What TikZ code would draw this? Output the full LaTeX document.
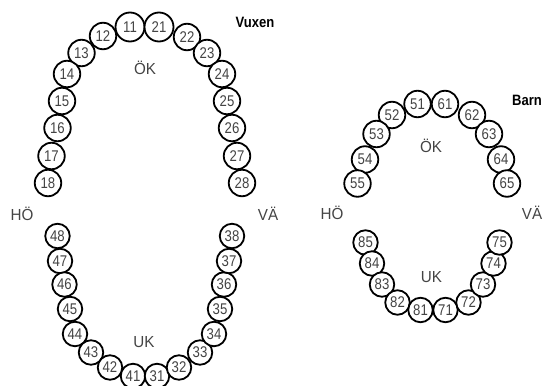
\documentclass[tikz,border=0pt]{standalone}
\usepackage{fontspec}
\setmainfont{Liberation Sans}
\newfontfamily\numfont[FakeStretch=0.85]{Liberation Sans}
\newfontfamily\lblfont[FakeStretch=0.95]{Liberation Sans}
\newfontfamily\ttlfont[FakeStretch=0.87]{Liberation Sans}
\definecolor{txt}{HTML}{444444}
\tikzset{
  tooth/.style={circle, draw=black, line width=1.8pt, fill=white, inner sep=0pt,
    text=txt, font=\numfont\fontsize{15.5}{17}\selectfont},
  big/.style={tooth, minimum size=29pt},
  up/.style={tooth, minimum size=26.5pt},
  low/.style={tooth, minimum size=24.5pt},
  lbl/.style={text=txt, font=\lblfont\fontsize{16}{18}\selectfont, inner sep=0pt},
  ttl/.style={text=black, font=\ttlfont\bfseries\fontsize{15}{17}\selectfont, inner sep=0pt}
}
\begin{document}
\begin{tikzpicture}[x=1pt,y=-1pt]
\useasboundingbox (0,0) rectangle (548,385);
% adult upper
\node[big] (t11) at (130,27) {11};
\node[big] (t21) at (159,27) {21};
\node[up] (t12) at (103,36) {12};
\node[up] (t22) at (187,37) {22};
\node[up] (t13) at (81.5,53) {13};
\node[up] (t23) at (207,53) {23};
\node[up] (t14) at (67,74) {14};
\node[up] (t24) at (222,74) {24};
\node[up] (t15) at (62,101) {15};
\node[up] (t25) at (227,101) {25};
\node[up] (t16) at (57.5,128) {16};
\node[up] (t26) at (232,128) {26};
\node[up] (t17) at (51.5,156) {17};
\node[up] (t27) at (237,156) {27};
\node[up] (t18) at (48,183) {18};
\node[up] (t28) at (242,183) {28};
\node[ttl] (vuxen) at (255,22) {Vuxen};
\node[lbl] (okA) at (145,68) {ÖK};
\node[lbl] (hoA) at (22,214) {HÖ};
\node[lbl] (vaA) at (268,214) {VÄ};
% adult lower
\node[low] (t48) at (57.5,236) {48};
\node[low] (t47) at (60,261) {47};
\node[low] (t46) at (64.5,284.5) {46};
\node[low] (t45) at (70,309) {45};
\node[low] (t44) at (75,334) {44};
\node[low] (t43) at (91,352.5) {43};
\node[low] (t42) at (110,367.5) {42};
\node[low] (t41) at (133,376) {41};
\node[low] (t31) at (157,376) {31};
\node[low] (t32) at (179,367.5) {32};
\node[low] (t33) at (200,352.5) {33};
\node[low] (t34) at (214,334) {34};
\node[low] (t35) at (220,309) {35};
\node[low] (t36) at (224,284.5) {36};
\node[low] (t37) at (229,261) {37};
\node[low] (t38) at (232,236) {38};
\node[lbl] (ukA) at (144,342) {UK};
% child upper
\node[up] (t51) at (417.5,104) {51};
\node[up] (t61) at (445,104) {61};
\node[up] (t52) at (392,115) {52};
\node[up] (t62) at (472,115) {62};
\node[up] (t53) at (376.5,134) {53};
\node[up] (t63) at (489,134) {63};
\node[up] (t54) at (365,159.5) {54};
\node[up] (t64) at (501,159.5) {64};
\node[up] (t55) at (357.5,183.5) {55};
\node[up] (t65) at (507,183.5) {65};
\node[ttl] (barn) at (527,100) {Barn};
\node[lbl] (okB) at (431,146) {ÖK};
\node[lbl] (hoB) at (332,213) {HÖ};
\node[lbl] (vaB) at (532,213) {VÄ};
% child lower
\node[low] (t85) at (365.5,242.5) {85};
\node[low] (t84) at (372,263.5) {84};
\node[low] (t83) at (382,284.5) {83};
\node[low] (t82) at (397.5,302.5) {82};
\node[low] (t81) at (420.5,310) {81};
\node[low] (t71) at (445.5,310) {71};
\node[low] (t72) at (468.5,302.5) {72};
\node[low] (t73) at (483,284.5) {73};
\node[low] (t74) at (493.5,263.5) {74};
\node[low] (t75) at (499.5,242.5) {75};
\node[lbl] (ukB) at (431.5,277) {UK};
\end{tikzpicture}
\end{document}
